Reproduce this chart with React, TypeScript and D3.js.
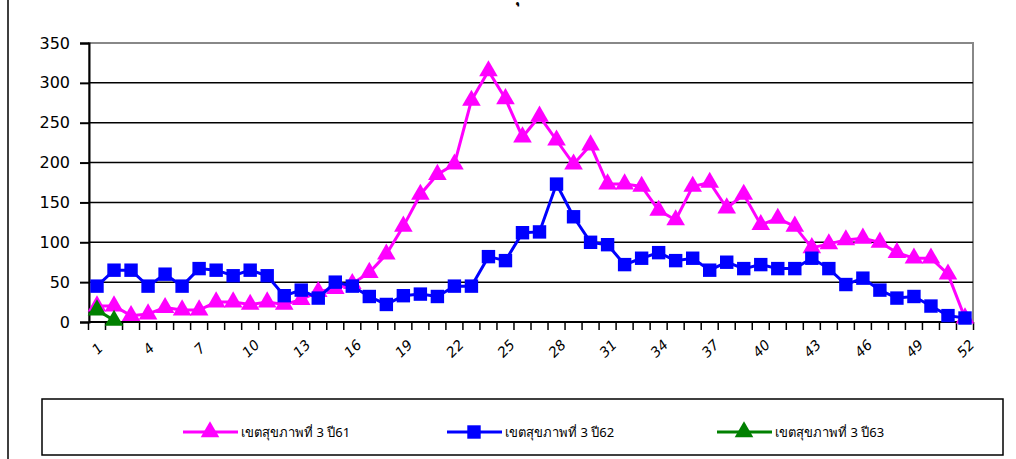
import React, { useEffect, useRef } from 'react';
import * as d3 from 'd3';

const weeks = d3.range(1, 53);
const y61 = [20, 20, 8, 10, 18, 15, 15, 25, 25, 22, 25, 22, 28, 38, 42, 48, 62, 85, 120, 160, 185, 198, 278, 315, 280, 232, 258, 228, 198, 222, 173, 173, 170, 140, 128, 170, 175, 143, 160, 122, 130, 120, 93, 98, 103, 105, 100, 87, 80, 80, 60, 5];
const y62 = [45, 65, 65, 45, 60, 45, 67, 65, 58, 65, 58, 33, 40, 30, 50, 45, 32, 22, 33, 35, 32, 45, 45, 82, 77, 112, 113, 173, 132, 100, 97, 72, 80, 87, 77, 80, 65, 75, 67, 72, 67, 67, 80, 67, 47, 55, 40, 30, 32, 20, 8, 5];
const y63 = [15, 2];
const yTicks = [0, 50, 100, 150, 200, 250, 300, 350];
const xTickLabels = [1, 4, 7, 10, 13, 16, 19, 22, 25, 28, 31, 34, 37, 40, 43, 46, 49, 52];
const seriesNames = ['เขตสุขภาพที่ 3 ปี61', 'เขตสุขภาพที่ 3 ปี62', 'เขตสุขภาพที่ 3 ปี63'];
const colors = ['#ff00ff', '#0000ff', '#008000'];
const shapes = ['tri', 'sq', 'tri'];

const App = () => {
  const ref = useRef(null);

  useEffect(() => {
    const svg = d3.select(ref.current);
    svg.selectAll('*').remove();
    const left = 89, right = 973, top = 43, bottom = 322;
    const x = d3.scalePoint().domain(weeks.map(String)).range([97, 965]);
    const y = d3.scaleLinear().domain([0, 350]).range([bottom, top]);

    svg.append('rect').attr('x', 8).attr('y', -5).attr('width', 1020).attr('height', 470).attr('fill', 'white').attr('stroke', 'black').attr('stroke-width', 1.5);
    svg.append('text').attr('x', 520).attr('y', 2).attr('font-family', 'Tahoma, DejaVu Sans').attr('font-size', 16).attr('font-weight', 'bold').text('ุ');

    svg.append('rect').attr('x', left).attr('y', top).attr('width', right - left).attr('height', bottom - top).attr('fill', 'none').attr('stroke', '#888').attr('stroke-width', 2);
    yTicks.forEach((t) => {
      if (t > 0 && t < 350) svg.append('line').attr('x1', left).attr('x2', right).attr('y1', y(t)).attr('y2', y(t)).attr('stroke', 'black').attr('stroke-width', 1.5);
    });

    const yAxis = svg.append('g').attr('transform', `translate(${left},0)`).call(d3.axisLeft(y).tickValues(yTicks).tickSize(9).tickPadding(10));
    yAxis.selectAll('text').attr('font-family', 'DejaVu Sans').attr('font-size', 16).attr('fill', 'black');
    yAxis.selectAll('line,path').attr('stroke', 'black').attr('stroke-width', 2);

    const step = x.step();
    const bandTicks = d3.range(0, 53).map((i) => 97 - step / 2 + i * step);
    svg.append('line').attr('x1', left).attr('x2', right).attr('y1', bottom).attr('y2', bottom).attr('stroke', 'black').attr('stroke-width', 2);
    bandTicks.forEach((bx) => svg.append('line').attr('x1', bx).attr('x2', bx).attr('y1', bottom).attr('y2', bottom + 8).attr('stroke', 'black').attr('stroke-width', 1.5));
    xTickLabels.forEach((t) => {
      svg.append('text').attr('transform', `translate(${x(String(t))! + 4},${bottom + 30}) rotate(-45)`)
        .attr('text-anchor', 'middle').attr('font-family', 'DejaVu Sans').attr('font-size', 14).attr('font-style', 'italic').text(t);
    });

    const tri = d3.symbol().type(d3.symbolTriangle).size(150);
    const sq = d3.symbol().type(d3.symbolSquare).size(180);
    const drawSeries = (vals: number[], i: number) => {
      const line = d3.line<number>().x((_, j) => x(String(j + 1))!).y((d) => y(d));
      svg.append('path').attr('d', line(vals)).attr('fill', 'none').attr('stroke', colors[i]).attr('stroke-width', 3);
      svg.selectAll(`.m${i}`).data(vals).enter().append('path').attr('class', `m${i}`)
        .attr('transform', (d, j) => `translate(${x(String(j + 1))},${y(d)})`)
        .attr('d', shapes[i] === 'tri' ? tri() : sq()).attr('fill', colors[i]);
    };
    drawSeries(y61, 0);
    drawSeries(y62, 1);
    drawSeries(y63, 2);

    svg.append('rect').attr('x', 42).attr('y', 399).attr('width', 961).attr('height', 56).attr('fill', 'white').attr('stroke', 'black').attr('stroke-width', 1.5);
    const legX = [183, 447, 717];
    seriesNames.forEach((n, i) => {
      const lx = legX[i], ly = 432;
      svg.append('line').attr('x1', lx).attr('x2', lx + 55).attr('y1', ly).attr('y2', ly).attr('stroke', colors[i]).attr('stroke-width', 3);
      svg.append('path').attr('transform', `translate(${lx + 27},${ly})`).attr('d', shapes[i] === 'tri' ? tri() : sq()).attr('fill', colors[i]);
      svg.append('text').attr('x', lx + 58).attr('y', ly + 5).attr('font-family', 'Noto Sans, Tahoma').attr('font-size', 13).text(n);
    });
  }, []);

  return <svg ref={ref} width={1016} height={459} style={{ position: 'absolute', left: 0, top: 0 }} />;
};

export default App;
